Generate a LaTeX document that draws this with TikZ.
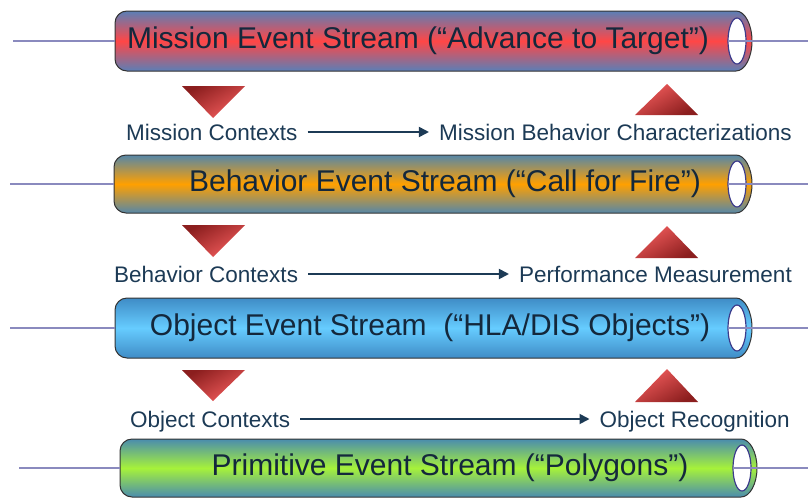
\documentclass[tikz,border=0pt]{standalone}
\usepackage{fontspec}
\setmainfont{Liberation Sans}
\usetikzlibrary{arrows.meta}
\definecolor{textcol}{HTML}{14283C}
\definecolor{labelcol}{HTML}{1C3A55}
\definecolor{wirecol}{HTML}{8A8ABE}
\definecolor{holecol}{HTML}{3C3C8C}
\definecolor{edgeA}{HTML}{5B7FB6}
\definecolor{edgeB}{HTML}{5687A8}
\definecolor{edgeC}{HTML}{3F8CC6}
\definecolor{edgeD}{HTML}{4A8CAE}
\definecolor{missionred}{HTML}{FF4646}
\definecolor{behaviororange}{HTML}{FFA000}
\definecolor{objectblue}{HTML}{66CCFF}
\definecolor{primitivegreen}{HTML}{A6F23A}
\definecolor{tridark}{HTML}{8B1E1E}
\definecolor{trilight}{HTML}{F25C5C}
\begin{document}
\begin{tikzpicture}[x=1pt,y=1pt,
    stream/.style={draw=black!80,line width=1pt},
    streamtext/.style={text=textcol,font=\fontsize{30}{36}\selectfont},
    ctx/.style={text=labelcol,font=\fontsize{22.5}{27}\selectfont,inner sep=0pt,text height=16pt,text depth=0pt},
    hole/.style={draw=holecol,fill=white,line width=1.2pt},
    wire/.style={draw=wirecol,line width=1.2pt},
    flow/.style={draw=labelcol,line width=1.8pt,-{Triangle[length=10pt,width=10pt]},shorten <=10pt,shorten >=10pt},
    downtri/.style={top color=tridark,bottom color=trilight,shading angle=30},
    uptri/.style={top color=trilight,bottom color=tridark,shading angle=30}]
    \useasboundingbox (0,0) rectangle (808,-498);

    % Mission
    \path[stream,top color=edgeA,bottom color=edgeA,middle color=missionred]
        (736,-11) -- (127,-11) arc (90:180:12pt) -- (115,-59) arc (180:270:12pt) -- (736,-71) arc (-90:90:16pt and 30pt) -- cycle;
    \node[streamtext] (mission) at (418,-41) {Mission Event Stream (“Advance to Target”)};
    \draw[hole] (737,-41) ellipse (9pt and 23pt);
    \coordinate (mission-in) at (13,-41);
    \coordinate (mission-w) at (115,-41);
    \coordinate (mission-hole) at (728,-41);
    \coordinate (mission-out) at (808,-41);
    \draw[wire] (mission-in) -- (mission-w);
    \draw[wire] (mission-hole) -- (mission-out);

    % Behavior
    \path[stream,top color=edgeB,bottom color=edgeB,middle color=behaviororange]
        (736,-155) -- (126,-155) arc (90:180:12pt) -- (114,-201) arc (180:270:12pt) -- (736,-213) arc (-90:90:16pt and 29pt) -- cycle;
    \node[streamtext] (behavior) at (445,-184) {Behavior Event Stream (“Call for Fire”)};
    \draw[hole] (737,-184) ellipse (9pt and 23pt);
    \coordinate (behavior-in) at (10,-184);
    \coordinate (behavior-w) at (114,-184);
    \coordinate (behavior-hole) at (728,-184);
    \coordinate (behavior-out) at (808,-184);
    \draw[wire] (behavior-in) -- (behavior-w);
    \draw[wire] (behavior-hole) -- (behavior-out);

    % Object
    \path[stream,top color=edgeC,bottom color=edgeC,middle color=objectblue]
        (736,-298) -- (127,-298) arc (90:180:12pt) -- (115,-346) arc (180:270:12pt) -- (736,-358) arc (-90:90:16pt and 30pt) -- cycle;
    \node[streamtext] (object) at (430,-328) {Object Event Stream\ \ (“HLA/DIS Objects”)};
    \draw[hole] (737,-328) ellipse (9pt and 23pt);
    \coordinate (object-in) at (10,-328);
    \coordinate (object-w) at (115,-328);
    \coordinate (object-hole) at (728,-328);
    \coordinate (object-out) at (808,-328);
    \draw[wire] (object-in) -- (object-w);
    \draw[wire] (object-hole) -- (object-out);

    % Primitive
    \path[stream,top color=edgeD,bottom color=edgeD,middle color=primitivegreen]
        (741,-439) -- (132,-439) arc (90:180:12pt) -- (120,-485) arc (180:270:12pt) -- (741,-497) arc (-90:90:16pt and 29pt) -- cycle;
    \node[streamtext] (primitive) at (450,-468) {Primitive Event Stream (“Polygons”)};
    \draw[hole] (742,-468) ellipse (9pt and 23pt);
    \coordinate (primitive-in) at (19,-468);
    \coordinate (primitive-w) at (120,-468);
    \coordinate (primitive-hole) at (733,-468);
    \coordinate (primitive-out) at (808,-468);
    \draw[wire] (primitive-in) -- (primitive-w);
    \draw[wire] (primitive-hole) -- (primitive-out);

    % triangles
    \path[downtri] (182,-86) -- (245,-86) -- (213,-118) -- cycle;
    \path[uptri] (635,-115) -- (698,-115) -- (667,-84) -- cycle;
    \path[downtri] (182,-225) -- (245,-225) -- (213,-257) -- cycle;
    \path[uptri] (635,-258) -- (698,-258) -- (667,-226) -- cycle;
    \path[downtri] (182,-370) -- (245,-370) -- (213,-401) -- cycle;
    \path[uptri] (635,-402) -- (698,-402) -- (667,-369) -- cycle;

    % contexts
    \node[ctx,anchor=base west] (missionctx) at (126,-140) {Mission Contexts};
    \node[ctx,anchor=base east] (missionchar) at (792,-140) {Mission Behavior Characterizations};
    \node[ctx,anchor=base west] (behaviorctx) at (114,-282) {Behavior Contexts};
    \node[ctx,anchor=base east] (perf) at (792,-282) {Performance Measurement};
    \node[ctx,anchor=base west] (objectctx) at (130,-427) {Object Contexts};
    \node[ctx,anchor=base east] (recog) at (790,-427) {Object Recognition};

    \draw[flow] (missionctx) -- (missionchar);
    \draw[flow] (behaviorctx) -- (perf);
    \draw[flow] (objectctx) -- (recog);
\end{tikzpicture}
\end{document}
